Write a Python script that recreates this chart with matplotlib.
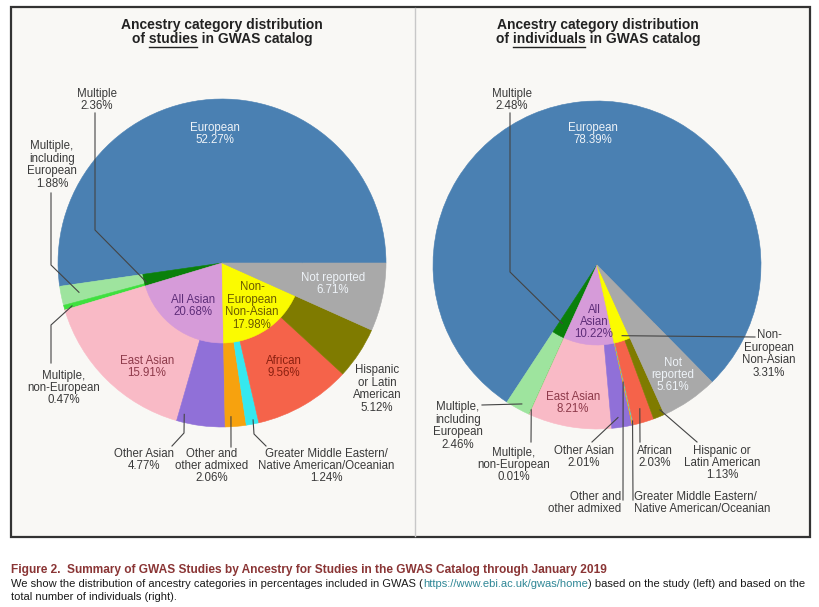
import matplotlib
matplotlib.use('Agg')
import matplotlib.pyplot as plt
import numpy as np

plt.rcParams['font.family'] = ['Liberation Sans', 'DejaVu Sans']

# fine categories (outer ring), counter-clockwise from the start angle
categories = ['European', 'Multiple, including European', 'Multiple, non-European',
              'East Asian', 'Other Asian', 'Other and other admixed',
              'Greater Middle Eastern/Native American/Oceanian', 'African',
              'Hispanic or Latin American', 'Not reported']
studies_pct = [52.27, 1.88, 0.47, 15.91, 4.77, 2.06, 1.24, 9.56, 5.12, 6.71]
individuals_pct = [78.39, 2.46, 0.01, 8.21, 2.01, 0.10, 0.05, 2.03, 1.13, 5.61]

# aggregated groups (inner ring)
groups = ['European', 'Multiple', 'All Asian', 'Non-European Non-Asian', 'Not reported']
studies_group_pct = [52.27, 2.36, 20.68, 17.98, 6.71]
individuals_group_pct = [78.39, 2.48, 10.22, 3.31, 5.61]

outer_colors = ['#4a80b2', '#9ee49e', '#3fe03f', '#f9bac6', '#9070d8',
                '#f7a20e', '#35e8ef', '#f5634a', '#7f7b00', '#a9a9a9']
inner_colors = ['#4a80b2', '#0a800a', '#d69bd9', '#fbfb00', '#a9a9a9']

R_OUT = 164
R_IN = 80
DARK = '#3a3a3a'
LIGHT = '#eef3f8'
LABEL_SIZE = 8.3

fig = plt.figure(figsize=(8.19, 6.07), dpi=100)
ax = fig.add_axes([0, 0, 1, 1])
renderer = fig.canvas.get_renderer()

# panel background and borders (pixel coordinates, y down)
ax.add_patch(plt.Rectangle((11, 7), 799, 530, facecolor='#f9f8f5',
                           edgecolor='#333333', linewidth=1.6, zorder=0))
ax.plot([415, 415], [8, 536], color='#c8c8c8', linewidth=1.0, zorder=0.5)


def draw_pie(cx, cy, outer, inner, start):
    # y axis is inverted, so a clockwise pie in data looks counter-clockwise
    for vals, r, cols in [(outer, R_OUT, outer_colors), (inner, R_IN, inner_colors)]:
        wedges, _ = ax.pie(vals, radius=r, center=(cx, cy), colors=cols,
                           startangle=-start, counterclock=False, frame=True,
                           wedgeprops=dict(linewidth=0.4))
        for w in wedges:
            w.set_edgecolor(w.get_facecolor())


def slice_point(vals, i, f, r, cx, cy, start):
    total = sum(vals)
    a = start + 360 * (sum(vals[:i]) + f * vals[i]) / total
    a = np.radians(a)
    return cx + r * np.cos(a), cy - r * np.sin(a)


def leader(points, vals, i, f, r, cx, cy, start):
    tip = slice_point(vals, i, f, r, cx, cy, start)
    xs = [p[0] for p in points] + [tip[0]]
    ys = [p[1] for p in points] + [tip[1]]
    ax.plot(xs, ys, color='#444444', linewidth=0.8, zorder=3)


def label(name, pct, x, y, color=DARK, ha='center'):
    s = name if pct is None else f'{name}\n{pct:.2f}%'
    ax.text(x, y, s, ha=ha, va='center', multialignment=ha, fontsize=LABEL_SIZE,
            color=color, linespacing=1.05, zorder=4)


def title(cx, word):
    ax.text(cx, 29.5, 'Ancestry category distribution', ha='center', va='baseline',
            fontsize=10, fontweight='bold', color='#222222')
    full = f'of {word} in GWAS catalog'
    t = ax.text(cx, 43.5, full, ha='center', va='baseline', fontsize=10,
                fontweight='bold', color='#222222')
    w_full = t.get_window_extent(renderer).width

    def width(s):
        tmp = ax.text(0, 0, s, fontsize=10, fontweight='bold')
        w = tmp.get_window_extent(renderer).width
        tmp.remove()
        return w
    x0 = cx - w_full / 2 + width(f'of {word}') - width(word)
    ax.plot([x0, x0 + width(word)], [46.5, 46.5], color='#222222', linewidth=1.0)


# ---- left: studies ----
LCX, LCY, LST = 222, 263, 0
draw_pie(LCX, LCY, studies_pct, studies_group_pct, LST)
title(LCX, 'studies')

leader([(95, 113), (95, 230)], studies_group_pct, 1, 0.7, 78, LCX, LCY, LST)
leader([(51, 193), (51, 265)], studies_pct, 1, 0.5, 146, LCX, LCY, LST)
leader([(51, 363), (51, 325)], studies_pct, 2, 0.6, 156, LCX, LCY, LST)
leader([(172, 446), (184, 433)], studies_pct, 4, 0.12, 156, LCX, LCY, LST)
leader([(231, 447)], studies_pct, 5, 0.3, 154, LCX, LCY, LST)
leader([(266, 446), (254, 434)], studies_pct, 6, 0.6, 160, LCX, LCY, LST)

label('European', studies_pct[0], 215, 134, LIGHT)
label('Not reported', studies_pct[9], 333, 284, LIGHT)
label('All Asian', studies_group_pct[2], 193, 306, '#5e2d79')
label('Non-\nEuropean\nNon-Asian', studies_group_pct[3], 252, 306, '#6b5a00')
label('East Asian', studies_pct[3], 147, 367, '#8e3a4a')
label('African', studies_pct[7], 284, 367, '#8b2010')
label('Hispanic\nor Latin\nAmerican', studies_pct[8], 377, 389)
label('Multiple', studies_group_pct[1], 97, 100)
label('Multiple,\nincluding\nEuropean', studies_pct[1], 52, 165)
label('Multiple,\nnon-European', studies_pct[2], 64, 388)
label('Other Asian', studies_pct[4], 144, 460)
label('Other and\nother admixed', studies_pct[5], 212, 466)
label('Greater Middle Eastern/\nNative American/Oceanian', studies_pct[6], 326, 466)

# ---- right: individuals ----
RCX, RCY, RST = 597, 265, -45.5
draw_pie(RCX, RCY, individuals_pct, individuals_group_pct, RST)
title(598, 'individuals')

leader([(510, 113), (510, 272)], individuals_group_pct, 1, 0.3, 68, RCX, RCY, RST)
leader([(755, 337)], individuals_group_pct, 3, 0.6, 75, RCX, RCY, RST)
leader([(482, 405)], individuals_pct, 1, 0.55, 158, RCX, RCY, RST)
leader([(531, 442)], individuals_pct, 2, 0.5, 159, RCX, RCY, RST)
leader([(592, 442)], individuals_pct, 4, 0.37, 154, RCX, RCY, RST)
leader([(623, 500)], individuals_pct, 5, 0.5, 120, RCX, RCY, RST)
leader([(633, 500)], individuals_pct, 6, 0.5, 160, RCX, RCY, RST)
leader([(640, 442)], individuals_pct, 7, 0.5, 150, RCX, RCY, RST)
leader([(697, 442)], individuals_pct, 8, 0.8, 158, RCX, RCY, RST)

label('European', individuals_pct[0], 593, 134, LIGHT)
label('Multiple', individuals_group_pct[1], 512, 100)
label('All\nAsian', individuals_group_pct[2], 594, 322, '#5e2d79')
label('Non-\nEuropean\nNon-Asian', individuals_group_pct[3], 769, 354)
label('Not\nreported', individuals_pct[9], 673, 375, LIGHT)
label('East Asian', individuals_pct[3], 573, 403, '#8e3a4a')
label('Multiple,\nincluding\nEuropean', individuals_pct[1], 458, 426)
label('Multiple,\nnon-European', individuals_pct[2], 514, 465)
label('Other Asian', individuals_pct[4], 584, 457)
label('African', individuals_pct[7], 655, 457)
label('Hispanic or\nLatin American', individuals_pct[8], 722, 463)
label('Other and\nother admixed', None, 621, 503, ha='right')
label('Greater Middle Eastern/\nNative American/Oceanian', None, 634, 503, ha='left')

# ---- caption ----
ax.text(11, 573, 'Figure 2.  Summary of GWAS Studies by Ancestry for Studies in the '
        'GWAS Catalog through January 2019', fontsize=8.6, fontweight='bold',
        color='#8a3535', va='baseline')
parts = [('We show the distribution of ancestry categories in percentages included in GWAS (', '#1a1a1a'),
         ('https://www.ebi.ac.uk/gwas/home', '#2f8796'),
         (') based on the study (left) and based on the', '#1a1a1a')]
x = 11
for s, c in parts:
    t = ax.text(x, 587, s, fontsize=8.05, color=c, va='baseline')
    x += t.get_window_extent(renderer).width
ax.text(11, 600, 'total number of individuals (right).', fontsize=8.05,
        color='#1a1a1a', va='baseline')

ax.set_xlim(0, 819)
ax.set_ylim(607, 0)
ax.set_aspect('auto')
ax.axis('off')

fig.savefig('out.png', dpi=100, facecolor='white')
